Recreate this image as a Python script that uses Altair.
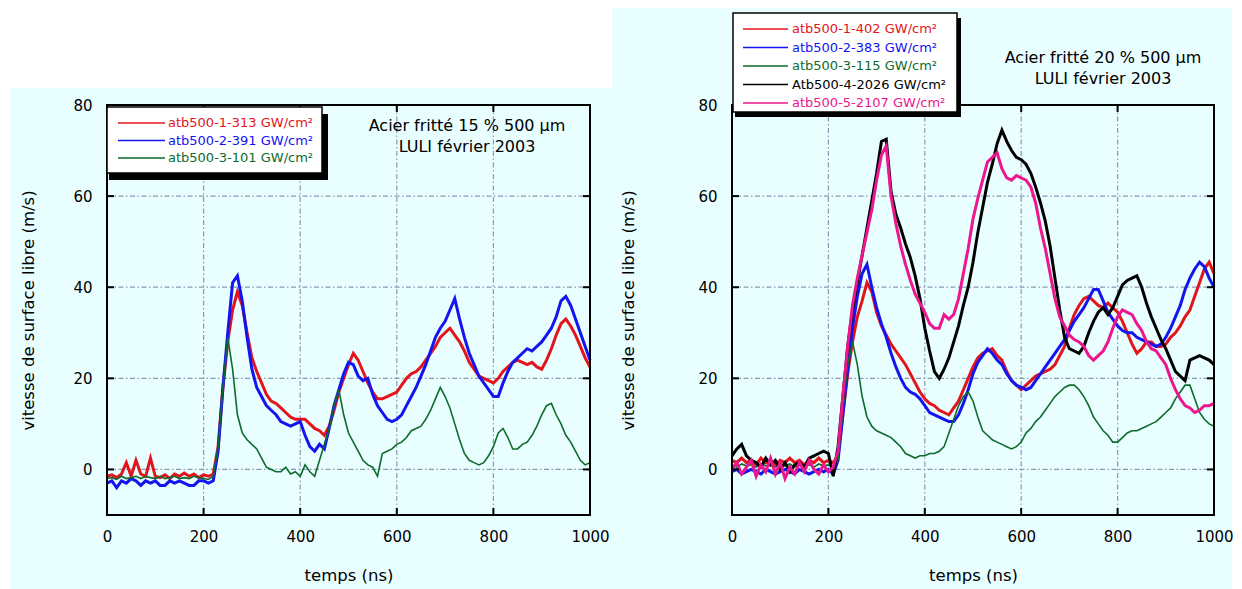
import altair as alt
import pandas as pd

FONT = "DejaVu Sans"
BG = "#e9fefe"
GRID = "#8a98b2"

# ---------------- data ----------------
T = list(range(0, 1001, 10))
X_TICKS = [0, 200, 400, 600, 800, 1000]
Y_TICKS = [0, 20, 40, 60, 80]
X_GRID = [200, 400, 600, 800]
Y_GRID = [0, 20, 40, 60]

L_LABELS = ["atb500-1-313 GW/cm²", "atb500-2-391 GW/cm²", "atb500-3-101 GW/cm²"]
L_COLORS = ["#e3141c", "#1414f0", "#0d6b2c"]

L_RED = [-1.5, -1.2, -1.8, -1.0, 1.5, -1.5, 2.0, -1.0, -1.5, 2.5,
         -1.5, -1.8, -1.2, -2.0, -1.0, -1.5, -0.8, -1.5, -1.0, -1.8,
         -1.2, -1.5, -1.0, 5, 18, 28, 35, 39, 36, 30,
         24.5, 21.5, 19, 16.5, 15, 14.5, 13.5, 12.5, 11.5, 11,
         11, 11, 10, 9, 8.5, 7.5, 9.5, 13, 17, 20,
         23, 25.5, 24, 21.5, 19, 17, 15.5, 15.5, 16, 16.5,
         17, 18.5, 20, 21, 21.5, 22.5, 24, 25.5, 27, 29,
         30, 31, 29.5, 28, 26, 23.5, 22, 20.5, 20, 19.5,
         19, 20, 21.5, 22.5, 23.5, 24, 23.5, 23, 23.5, 22.5,
         22, 24, 26.5, 29.5, 32, 33, 31.5, 29.5, 27, 24.5,
         22.5]
L_BLUE = [-3, -2.5, -4, -2.5, -3, -2, -2.5, -3.5, -2.5, -3,
          -2.5, -3.5, -3.5, -2.5, -3, -2.5, -3, -3.5, -3.5, -2.5,
          -2.5, -3, -2.5, 4, 18, 30, 41, 42.5, 37, 29,
          22, 18, 16, 14, 13, 12, 10.5, 10, 9.5, 10,
          10.5, 7.5, 5, 4, 5.5, 4.5, 9, 14, 17.5, 21,
          23.5, 23, 20.5, 19.5, 20, 16.5, 14, 12.5, 11, 10.5,
          11, 12, 14, 16, 18, 20.5, 23, 26, 29, 31,
          32.5, 35, 37.5, 33, 29, 25.5, 23, 20.5, 19, 17.5,
          16, 16, 19, 21.5, 23.5, 24.5, 25.5, 26.5, 26, 27,
          28, 29.5, 31, 33.5, 37, 38, 36, 33, 30, 27,
          24]
L_GREEN = [-2, -1.8, -2.2, -1.5, -2, -1.8, -1.5, -2, -1.5, -1.8,
           -2, -1.5, -2, -1.8, -1.5, -2, -1.8, -2, -1.5, -1.8,
           -2, -2.2, -1.5, 5, 18, 29, 22, 12, 8, 6.5,
           5.5, 4.5, 2.5, 0.5, 0, -0.5, -0.5, 0.5, -1, -0.5,
           -1.5, 1, -0.5, -1.5, 2, 5.5, 9, 14, 17.5, 12,
           8, 6, 4, 2, 1, 0.5, -1.5, 3.5, 4, 4.5,
           5.5, 6, 7, 8.5, 9, 9.5, 11, 13, 15.5, 18,
           16, 13.5, 10, 6.5, 3.5, 2, 1.5, 1, 1.5, 3,
           5, 8, 9, 7, 4.5, 4.5, 5.5, 6, 7.5, 9.5,
           12, 14, 14.5, 12, 10, 7.5, 6, 4, 2, 1,
           1.5]

R_LABELS = ["atb500-1-402 GW/cm²", "atb500-2-383 GW/cm²", "atb500-3-115 GW/cm²",
            "Atb500-4-2026 GW/cm²", "atb500-5-2107 GW/cm²"]
R_COLORS = ["#e3141c", "#1414f0", "#0d6b2c", "#000000", "#ec168e"]

R_RED = [2, 1.5, 2.5, 1.5, 2, 1, 2.5, 1.5, 2, 1,
         2, 1.5, 2.5, 1.5, 2, 1, 2, 1.5, 2.5, 1.5,
         2, 1.5, 3, 12, 21, 28, 33.5, 37, 41, 39,
         34.5, 31.5, 29.5, 27.5, 26, 24.5, 23, 21, 19, 17,
         15.5, 14.5, 14, 13, 12.5, 12, 13.5, 15, 17.5, 20,
         22.5, 24.5, 25.5, 26, 26.5, 25, 24, 21.5, 19.5, 18.5,
         17.5, 18.5, 19.5, 20.5, 21, 21.5, 22, 23, 25, 27,
         31, 34, 36, 37.5, 38, 37, 36, 35.5, 36.5, 35.5,
         34.5, 32.5, 30, 27.5, 25.5, 26.5, 28, 28, 27, 27,
         27.5, 29, 30, 31.5, 33.5, 35, 38, 41, 44, 45.5,
         43]
R_BLUE = [-0.5, 0, -1, -0.5, 0, -0.5, -1, 0, -0.5, -1,
          -0.5, 0, -0.5, -1, 0, -0.5, -1, -0.5, 0, -0.5,
          0, -1, 2, 12, 22, 31, 38, 43, 45, 40,
          35.5, 32, 29, 25.5, 22.5, 20, 18, 17, 16.5, 15.5,
          14, 12.5, 12, 11.5, 11, 10.5, 10.5, 12, 14.5, 17.5,
          21, 23.5, 25, 26.5, 25.5, 24, 23, 21, 19.5, 18.5,
          18, 17.5, 18, 19.5, 21, 22.5, 24, 25.5, 27, 28.5,
          30.5, 32.5, 34, 35.5, 37.5, 39.5, 39.5, 37, 34.5, 33,
          31.5, 30.5, 30, 30, 29, 28.5, 28, 27.5, 27, 27.5,
          29, 31, 33.5, 36, 39.5, 42, 44, 45.5, 44.5, 42,
          40]
R_GREEN = [1, 0.5, 1.2, 0.8, 1, 0.5, 1.2, 0.8, 1, 0.5,
           1, 0.8, 1.2, 0.5, 1, 0.8, 1, 0.5, 1.2, 0.8,
           1, 0.5, 2, 13, 23, 28, 23, 16, 11.5, 9.5,
           8.5, 8, 7.5, 7, 6, 5, 3.5, 3, 2.5, 3,
           3, 3.5, 3.5, 4, 5, 8, 11, 14, 16, 17,
           15, 11.5, 8.5, 7.5, 6.5, 6, 5.5, 5, 4.5, 5,
           6, 8, 9, 10.5, 11.5, 13, 14.5, 16, 17, 18,
           18.5, 18.5, 17.5, 16, 14, 11.5, 10, 8.5, 7.5, 6,
           6, 7, 8, 8.5, 8.5, 9, 9.5, 10, 10.5, 11.5,
           12.5, 13.5, 15.5, 17, 18.5, 18.5, 15.5, 12.5, 11, 10,
           9.5]
R_BLACK = [3, 4.5, 5.5, 3, 2, 1.5, 0.5, 2.5, 1, 2,
           0, 1.5, -0.5, 1, 1.5, 0.5, 2.5, 3, 3.5, 4,
           3.5, -1.5, 5, 16, 27, 35, 41, 47, 53, 59,
           65, 72, 72.5, 61, 56, 53, 49.5, 46.5, 42.5, 37.5,
           31, 26, 21.5, 20, 22, 24.5, 28, 31.5, 36, 40,
           45.5, 52, 57.5, 63, 67, 71.5, 74.5, 72, 70, 68.5,
           68, 67, 65, 62, 58.5, 54.5, 49, 42, 35, 29,
           26.5, 26, 25.5, 27, 30, 32.5, 34.5, 35.5, 34, 35.5,
           38, 40.5, 41.5, 42, 42.5, 40, 36.5, 33.5, 31, 28.5,
           26.5, 24, 21.5, 20.5, 19.5, 24, 24.5, 25, 24.5, 24,
           23]
R_PINK = [0, 1.5, -1, 0.5, 2, -1.5, 1, -0.5, 2.5, -1,
          1.5, -2, 0.5, -1, 1.5, -0.5, 2, 0, -1, 1,
          -0.5, 0.5, 4, 16, 27, 36, 42, 47, 52, 57,
          63.5, 69, 71, 60, 54, 49, 45, 41.5, 38.5, 36.5,
          34.5, 32, 31, 31, 34, 33, 34, 37.5, 43, 48.5,
          55, 59.5, 63.5, 67.5, 68.5, 69.5, 66, 64, 63.5, 64.5,
          64, 63.5, 62, 58.5, 53, 48.5, 43, 37.5, 33.5, 31.5,
          29.5, 28.5, 28, 27, 25, 24, 25, 26, 28, 31,
          33.5, 35, 34.5, 34, 32, 30.5, 28, 26.5, 26, 24.5,
          23, 20, 17.5, 15.5, 14, 13.5, 12.5, 13, 14, 14,
          14.5]

L_NOTE = ["Acier fritté 15 % 500 µm", "LULI février 2003"]
R_NOTE = ["Acier fritté 20 % 500 µm", "LULI février 2003"]
X_TITLE = "temps (ns)"
Y_TITLE = "vitesse de surface libre (m/s)"

H = 410
ONE = alt.Data(values=[{"k": 0}])


def box(x1, x2, y1, y2, **kw):
    return alt.Chart(ONE).mark_rect(**kw).encode(
        x=alt.value(x1), x2=alt.value(x2), y=alt.value(y1), y2=alt.value(y2))


def panel(W, series, labels, colors, widths, notes, note_xy, bg, leg, title_x):
    xs = alt.Scale(domain=[0, 1000], nice=False, zero=False)
    ys = alt.Scale(domain=[-10, 80], nice=False, zero=False)
    x_axis = alt.Axis(values=X_TICKS, title=X_TITLE, format="d", grid=False, ticks=False,
                      tickSize=0, domain=False, labelFont=FONT, labelFontSize=15,
                      labelColor="black", labelPadding=14, labelFlush=False,
                      labelOverlap=False, titleFont=FONT, titleFontSize=16.5,
                      titleFontWeight="normal", titleColor="black", titleY=60,
                      titleBaseline="middle", zindex=1)
    y_axis = alt.Axis(values=Y_TICKS, title=Y_TITLE, format="d", grid=False, ticks=False,
                      tickSize=0, domain=False, labelFont=FONT, labelFontSize=15,
                      labelColor="black", labelPadding=15, labelFlush=False,
                      labelOverlap=False, titleFont=FONT, titleFontSize=16.5,
                      titleFontWeight="normal", titleColor="black", titleX=title_x,
                      titleY=H / 2, titleBaseline="middle", zindex=1)
    X = alt.X("t:Q", scale=xs, axis=x_axis)
    Y = alt.Y("v:Q", scale=ys, axis=y_axis)

    layers = [box(bg[0], bg[1], bg[2], bg[3], fill=BG)]

    gx = pd.DataFrame({"t": X_GRID})
    gy = pd.DataFrame({"v": Y_GRID})
    dash = [5, 2.5, 1.5, 2.5]
    layers.append(alt.Chart(gx).mark_rule(color=GRID, strokeWidth=1.2, strokeDash=dash)
                  .encode(x=X, y=alt.value(0), y2=alt.value(H)))
    layers.append(alt.Chart(gy).mark_rule(color=GRID, strokeWidth=1.2, strokeDash=dash)
                  .encode(y=Y, x=alt.value(0), x2=alt.value(W)))

    for vals, col, w in zip(series, colors, widths):
        df = pd.DataFrame({"t": T, "v": vals})
        layers.append(alt.Chart(df).mark_line(color=col, strokeWidth=w,
                                              strokeJoin="miter", strokeCap="butt")
                      .encode(x=X, y=Y))

    # frame and inward ticks
    layers.append(box(0, W, 0, H, fillOpacity=0, stroke="black", strokeWidth=2))
    tl = 7
    layers.append(alt.Chart(gx).mark_rule(color="black", strokeWidth=2)
                  .encode(x=X, y=alt.value(H), y2=alt.value(H - tl)))
    layers.append(alt.Chart(gx).mark_rule(color="black", strokeWidth=2)
                  .encode(x=X, y=alt.value(0), y2=alt.value(tl)))
    layers.append(alt.Chart(gy).mark_rule(color="black", strokeWidth=2)
                  .encode(y=Y, x=alt.value(0), x2=alt.value(tl)))
    layers.append(alt.Chart(gy).mark_rule(color="black", strokeWidth=2)
                  .encode(y=Y, x=alt.value(W), x2=alt.value(W - tl)))

    # legend box
    bx1, bx2, by1, by2, sdx, sdy, row0, dy, lx1, lx2, tx = leg
    layers.append(box(bx1 + 2, bx2 + sdx, by1 + sdy, by2 + sdy, fill="black"))
    layers.append(box(bx1, bx2, by1, by2, fill="white", stroke="black", strokeWidth=1.5))
    for i, (lab, col) in enumerate(zip(labels, colors)):
        yy = row0 + i * dy
        layers.append(alt.Chart(ONE).mark_rule(color=col, strokeWidth=1.5)
                      .encode(x=alt.value(lx1), x2=alt.value(lx2), y=alt.value(yy)))
        layers.append(alt.Chart(ONE).mark_text(text=lab, align="left", baseline="middle",
                                               font=FONT, fontSize=13, color=col)
                      .encode(x=alt.value(tx), y=alt.value(yy)))

    # annotation
    for j, line in enumerate(notes):
        layers.append(alt.Chart(ONE).mark_text(text=line, align="center", baseline="middle",
                                               font=FONT, fontSize=16, color="black")
                      .encode(x=alt.value(note_xy[0]), y=alt.value(note_xy[1] + j * 21)))

    return alt.layer(*layers).properties(width=W, height=H)


left = panel(483, [L_RED, L_BLUE, L_GREEN], L_LABELS, L_COLORS, [3, 3, 1.6],
             L_NOTE, (360, 21), (-97, 505, -17, 486),
             (0, 215, 2, 68, 6, 7, 18, 17.5, 11, 58, 61), -79)
right = panel(482, [R_RED, R_BLUE, R_GREEN, R_BLACK, R_PINK], R_LABELS, R_COLORS,
              [3, 3, 1.6, 3, 3],
              R_NOTE, (371, -47), (-120, 500, -97, 486),
              (1, 225, -92, 7, 4, 5, -76, 18.5, 11, 56, 60), -104)

chart = alt.hconcat(left, right, spacing=142, bounds="flush").properties(
    padding={"left": 2, "top": 0, "right": 0, "bottom": 0}
).configure_view(stroke="transparent", strokeWidth=0)

chart.save("out.html", embed_options={"renderer": "svg", "actions": False})
